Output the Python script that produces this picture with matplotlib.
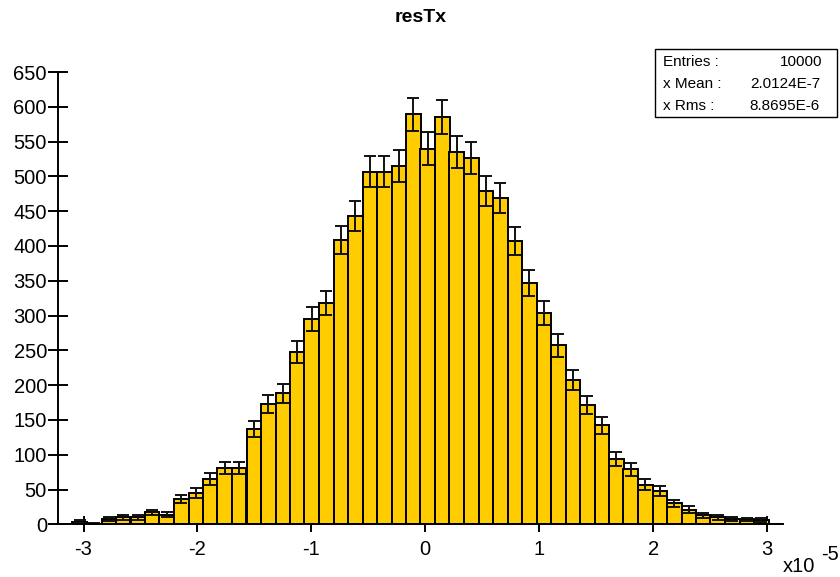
import numpy as np
import matplotlib
matplotlib.use("Agg")
import matplotlib.pyplot as plt
from matplotlib.patches import Rectangle

plt.rcParams['font.family'] = ['Liberation Sans', 'DejaVu Sans']
plt.rcParams['axes.unicode_minus'] = False

# ---- data (x in units of 1e-5) ----
x_low = -3.224
x_high = 3.14
n_bins = 50
counts = [0, 4, 1, 8, 10, 10, 17, 14, 36, 45,
          65, 81, 81, 137, 173, 188, 247, 295, 318, 409,
          443, 507, 507, 515, 589, 540, 585, 535, 526, 479,
          469, 407, 347, 304, 257, 207, 171, 142, 94, 79,
          57, 48, 30, 21, 13, 10, 8, 7, 6, 0]
x_ticks = [-3, -2, -1, 0, 1, 2, 3]
x_tick_labels = ["-3", "-2", "-1", "0", "1", "2", "3"]
y_ticks = list(range(0, 651, 50))
title = "resTx"
stats_labels = ["Entries :", "x Mean :", "x Rms :"]
stats_values = ["10000", "2.0124E-7", "8.8695E-6"]

edges = np.linspace(x_low, x_high, n_bins + 1)
counts = np.array(counts, dtype=float)
centers = 0.5 * (edges[:-1] + edges[1:])
widths = np.diff(edges)
errs = np.sqrt(counts)

W, H = 840, 577
fig = plt.figure(figsize=(W / 100, H / 100), dpi=100)
ax = fig.add_axes([58 / W, 1 - 524.3 / H, 725 / W, (524.3 - 72) / H])

ax.bar(edges[:-1], counts, width=widths, align='edge', color='#FFCC00',
       edgecolor='black', linewidth=1.4, zorder=2)
mask = counts > 0
ax.errorbar(centers[mask], counts[mask], yerr=errs[mask], fmt='none',
            ecolor='#111111', elinewidth=1.4, capsize=4.4, capthick=1.4, zorder=3)

ax.set_xlim(x_low, x_high)
ax.set_ylim(0, 650)
ax.set_xticks(x_ticks)
ax.set_xticklabels(x_tick_labels)
ax.set_yticks(y_ticks)
ax.tick_params(axis='x', direction='inout', length=12, width=1.4, pad=5.5, labelsize=14.5)
ax.tick_params(axis='y', direction='inout', length=14, width=1.4, pad=1, labelsize=14.5)
for s in ['top', 'right']:
    ax.spines[s].set_visible(False)
ax.spines['left'].set_linewidth(1.4)
ax.spines['bottom'].set_linewidth(1.4)
ax.spines['bottom'].set_zorder(4)

fig.text(421 / W, 1 - 18 / H, title, ha='center', va='center', fontsize=14, fontweight='bold')
fig.text(783 / W, 1 - 566 / H, "x10", ha='left', va='center', fontsize=14.5)
fig.text(821 / W, 1 - 554 / H, "-5", ha='left', va='center', fontsize=14.5)

# stats box
bx0, by0, bx1, by1 = 655, 49, 837, 117
fig.patches.append(Rectangle((bx0 / W, 1 - by1 / H), (bx1 - bx0) / W, (by1 - by0) / H,
                             transform=fig.transFigure, facecolor='white',
                             edgecolor='black', linewidth=1.0))
for i, (lab, val) in enumerate(zip(stats_labels, stats_values)):
    yy = 1 - (62 + 22 * i) / H
    fig.text(663 / W, yy, lab, ha='left', va='center', fontsize=11)
    fig.text((822 if i == 0 else 820) / W, yy, val, ha='right', va='center', fontsize=11)

fig.savefig("out.png", dpi=100)
